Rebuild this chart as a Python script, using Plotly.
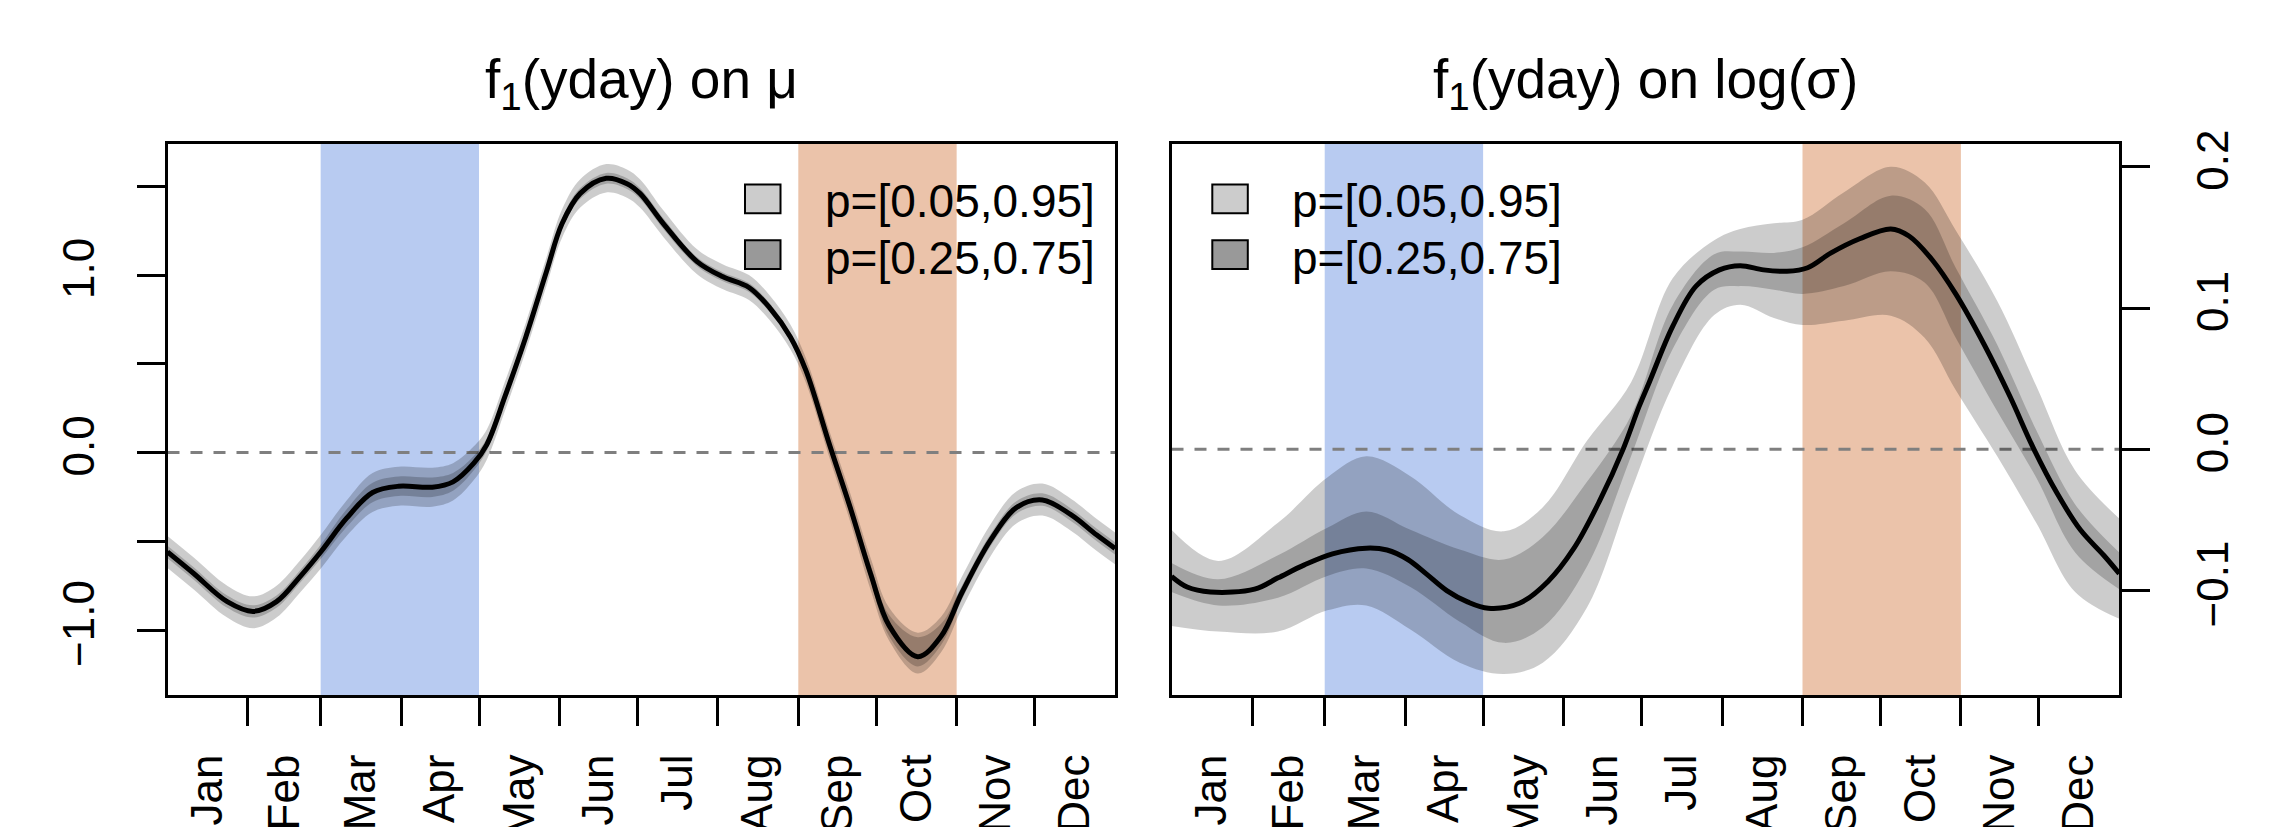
import plotly.graph_objects as go

# ---------------- data ----------------
months = ["Jan", "Feb", "Mar", "Apr", "May", "Jun", "Jul", "Aug", "Sep", "Oct", "Nov", "Dec"]
month_start = [1, 32, 60, 91, 121, 152, 182, 213, 244, 274, 305, 335]
month_mid = [16.5, 46, 75.5, 106, 136.5, 167, 197.5, 228.5, 259, 289.5, 320, 350.5]
year_range = [1, 366]
spring = [60, 121]   # Mar 1 .. May 1
autumn = [244, 305]  # Sep 1 .. Nov 1

# panel 1: f1(yday) on mu
L_day = [1, 11, 24, 34, 43, 52, 60, 70, 80, 90, 103, 111, 119, 124, 131, 139, 147, 153, 160, 170, 178, 183,
         192, 205, 215, 225, 233, 241, 247, 256, 264, 272, 279, 290, 299, 307, 318, 328, 338, 349, 359, 366]
L_mean = [-0.56, -0.68, -0.84, -0.895, -0.84, -0.70, -0.56, -0.37, -0.225, -0.19, -0.195, -0.165, -0.06, 0.045,
          0.316, 0.65, 1.02, 1.29, 1.46, 1.545, 1.515, 1.46, 1.29, 1.076, 0.99, 0.93, 0.815, 0.65, 0.46, 0.045,
          -0.31, -0.69, -0.975, -1.15, -1.035, -0.79, -0.495, -0.31, -0.267, -0.35, -0.465, -0.54]
L_q95 = [-0.47, -0.59, -0.75, -0.81, -0.75, -0.61, -0.465, -0.27, -0.115, -0.08, -0.085, -0.06, 0.035, 0.13,
         0.40, 0.73, 1.10, 1.37, 1.54, 1.625, 1.595, 1.54, 1.365, 1.145, 1.06, 1.00, 0.885, 0.72, 0.53, 0.12,
         -0.23, -0.60, -0.875, -1.015, -0.925, -0.70, -0.405, -0.22, -0.175, -0.26, -0.375, -0.45]
L_q75 = [-0.525, -0.645, -0.805, -0.86, -0.805, -0.665, -0.52, -0.32, -0.17, -0.135, -0.14, -0.115, -0.02, 0.08,
         0.35, 0.68, 1.05, 1.32, 1.49, 1.575, 1.545, 1.49, 1.32, 1.10, 1.015, 0.955, 0.84, 0.675, 0.49, 0.08,
         -0.27, -0.64, -0.915, -1.04, -0.965, -0.75, -0.46, -0.275, -0.23, -0.315, -0.43, -0.505]
L_q25 = [-0.595, -0.715, -0.875, -0.93, -0.875, -0.735, -0.60, -0.42, -0.28, -0.245, -0.25, -0.215, -0.10, 0.01,
         0.285, 0.62, 0.99, 1.26, 1.43, 1.515, 1.485, 1.43, 1.26, 1.05, 0.965, 0.905, 0.79, 0.625, 0.43, 0.01,
         -0.35, -0.73, -1.035, -1.205, -1.085, -0.83, -0.53, -0.345, -0.30, -0.385, -0.50, -0.575]
L_q05 = [-0.65, -0.77, -0.93, -0.99, -0.93, -0.79, -0.655, -0.47, -0.335, -0.30, -0.305, -0.27, -0.155, -0.04,
         0.235, 0.57, 0.94, 1.21, 1.38, 1.465, 1.435, 1.38, 1.215, 1.005, 0.92, 0.86, 0.745, 0.58, 0.39, -0.03,
         -0.39, -0.78, -1.06, -1.245, -1.125, -0.88, -0.585, -0.40, -0.355, -0.44, -0.555, -0.63]
L_yticks = [-1.0, 0.0, 1.0]
L_yticktext = ["\u22121.0", "0.0", "1.0"]
L_yminor = [-0.5, 0.5, 1.5]
L_yrange = [-1.366, 1.74]

# panel 2: f1(yday) on log(sigma)
R_day = [1, 7, 16, 33, 42, 52, 63, 76, 84, 92, 99, 107, 115, 123, 135, 146, 156, 166, 175, 181, 185, 194, 203,
         212, 220, 229, 238, 246, 255, 266, 278, 285, 294, 303, 314, 324, 333, 342, 351, 360, 366]
R_mean = [-0.090, -0.0975, -0.101, -0.099, -0.091, -0.082, -0.074, -0.070, -0.0713, -0.078, -0.088, -0.100,
          -0.108, -0.1125, -0.109, -0.0935, -0.070, -0.036, 0.0005, 0.030, 0.0475, 0.087, 0.1155, 0.127, 0.130,
          0.127, 0.126, 0.1285, 0.139, 0.149, 0.156, 0.151, 0.134, 0.110, 0.074, 0.037, 0.0005, -0.031, -0.057,
          -0.075, -0.088]
R_band_day = [1, 19, 42, 61, 76, 93, 112, 129, 144, 161, 178, 194, 210, 220, 233, 244, 260, 278, 291, 303, 319,
              334, 349, 366]
R_q95 = [-0.057, -0.079, -0.052, -0.020, -0.005, -0.019, -0.0465, -0.058, -0.041, 0.006, 0.0475, 0.121, 0.148,
         0.156, 0.160, 0.1625, 0.182, 0.200, 0.189, 0.155, 0.105, 0.045, -0.015, -0.049]
R_q75 = [-0.0805, -0.092, -0.075, -0.0556, -0.044, -0.057, -0.071, -0.078, -0.062, -0.023, 0.024, 0.102, 0.138,
         0.140, 0.139, 0.143, 0.160, 0.1795, 0.170, 0.1285, 0.074, 0.0136, -0.039, -0.073]
R_q25 = [-0.101, -0.1105, -0.105, -0.0896, -0.0844, -0.0975, -0.122, -0.137, -0.126, -0.083, -0.0047, 0.071,
         0.113, 0.1155, 0.113, 0.110, 0.1155, 0.126, 0.118, 0.079, 0.027, -0.020, -0.073, -0.099]
R_q05 = [-0.125, -0.129, -0.129, -0.114, -0.1105, -0.1275, -0.151, -0.159, -0.151, -0.112, -0.0295, 0.045,
         0.095, 0.1024, 0.093, 0.088, 0.091, 0.0946, 0.079, 0.042, -0.005, -0.052, -0.101, -0.120]
R_yticks = [-0.1, 0.0, 0.1, 0.2]
R_yticktext = ["\u22120.1", "0.0", "0.1", "0.2"]
R_yminor = []
R_yrange = [-0.1739, 0.2163]

titles = ["f<sub>1</sub>(yday) on \u03bc", "f<sub>1</sub>(yday) on log(\u03c3)"]
legend_labels = ["p=[0.05,0.95]", "p=[0.25,0.75]"]

# ---------------- styling ----------------
W, H = 2281, 827
FONT = "Liberation Sans, Arial, Helvetica, sans-serif"
BAND = "rgba(0,0,0,0.2)"
BLUE = "#B8CBF1"
ORANGE = "#EBC3AA"


def fx(p):
    return p / W


def fy(p):
    return 1 - p / H


panels = [
    dict(xa="x", ya="y", xdom=[167.5, 1115], bday=L_day, q05=L_q05, q25=L_q25, q75=L_q75, q95=L_q95,
         mday=L_day, mean=L_mean),
    dict(xa="x2", ya="y2", xdom=[1171.5, 2119.3], bday=R_band_day, q05=R_q05, q25=R_q25, q75=R_q75, q95=R_q95,
         mday=R_day, mean=R_mean),
]

fig = go.Figure()
for p in panels:
    common = dict(xaxis=p["xa"], yaxis=p["ya"], mode="lines", showlegend=False, hoverinfo="skip")
    fig.add_trace(go.Scatter(x=p["bday"], y=p["q05"], line=dict(width=0, shape="spline"), **common))
    fig.add_trace(go.Scatter(x=p["bday"], y=p["q95"], line=dict(width=0, shape="spline"),
                             fill="tonexty", fillcolor=BAND, **common))
    fig.add_trace(go.Scatter(x=p["bday"], y=p["q25"], line=dict(width=0, shape="spline"), **common))
    fig.add_trace(go.Scatter(x=p["bday"], y=p["q75"], line=dict(width=0, shape="spline"),
                             fill="tonexty", fillcolor=BAND, **common))
    fig.add_trace(go.Scatter(x=p["mday"], y=p["mean"], line=dict(width=5, color="black", shape="spline"),
                             **common))

shapes = []
annotations = []
for i, p in enumerate(panels):
    xr, yr = p["xa"], p["ya"]
    shapes.append(dict(type="rect", xref=xr, yref=yr + " domain", x0=spring[0], x1=spring[1], y0=0, y1=1,
                       fillcolor=BLUE, line=dict(width=0), layer="below"))
    shapes.append(dict(type="rect", xref=xr, yref=yr + " domain", x0=autumn[0], x1=autumn[1], y0=0, y1=1,
                       fillcolor=ORANGE, line=dict(width=0), layer="below"))
    shapes.append(dict(type="line", xref=xr + " domain", yref=yr, x0=0, x1=1, y0=0, y1=0,
                       line=dict(color="#7f7f7f", width=3, dash="12px,11px"), layer="below"))
    cx = (p["xdom"][0] + p["xdom"][1]) / 2
    annotations.append(dict(text=titles[i], xref="paper", yref="paper", x=fx(cx), y=fy(83), xanchor="center",
                            yanchor="middle", showarrow=False, font=dict(family=FONT, size=55, color="black")))

# legends (drawn manually, like R's legend())
legend_pos = [dict(box=745, text=823), dict(box=1212.3, text=1290)]
swatch = ["#CCCCCC", "#999999"]
rows = [(184.5, 213.3, 201), (240.2, 269.0, 258)]
for lp in legend_pos:
    for k, (y0, y1, yc) in enumerate(rows):
        shapes.append(dict(type="rect", xref="paper", yref="paper", x0=fx(lp["box"]), x1=fx(lp["box"] + 35.5),
                           y0=fy(y1), y1=fy(y0), fillcolor=swatch[k], line=dict(color="black", width=2)))
        annotations.append(dict(text=legend_labels[k], xref="paper", yref="paper", x=fx(lp["text"]), y=fy(yc),
                                xanchor="left", yanchor="middle", showarrow=False,
                                font=dict(family=FONT, size=46, color="black")))

tickfont = dict(family=FONT, size=44, color="black")
ydom = [fy(695), fy(143.7)]


def xaxis_cfg(dom, anchor):
    return dict(domain=[fx(dom[0]), fx(dom[1])], anchor=anchor, range=year_range, tickmode="array",
                tickvals=month_mid, ticktext=months, tickangle=-90, ticks="", ticklabelstandoff=39,
                tickfont=tickfont, showline=True, mirror=True, linecolor="black", linewidth=3,
                showgrid=False, zeroline=False, automargin=False,
                minor=dict(tickmode="array", tickvals=month_start[1:], ticks="outside", ticklen=28,
                           tickwidth=3, tickcolor="black", showgrid=False))


def yaxis_cfg(rng, tv, tt, minor_vals, anchor, side):
    return dict(domain=ydom, anchor=anchor, range=rng, side=side, tickmode="array", tickvals=tv, ticktext=tt,
                tickangle=-90, ticks="outside", ticklen=28, tickwidth=3, tickcolor="black",
                ticklabelstandoff=25, tickfont=tickfont, showline=True, mirror=True, linecolor="black",
                linewidth=3, showgrid=False, zeroline=False, automargin=False,
                minor=dict(tickmode="array", tickvals=minor_vals, ticks="outside", ticklen=28, tickwidth=3,
                           tickcolor="black", showgrid=False))


fig.update_layout(
    width=W, height=H, margin=dict(l=0, r=0, t=0, b=0),
    paper_bgcolor="white", plot_bgcolor="white", showlegend=False,
    xaxis=xaxis_cfg(panels[0]["xdom"], "y"),
    xaxis2=xaxis_cfg(panels[1]["xdom"], "y2"),
    yaxis=yaxis_cfg(L_yrange, L_yticks, L_yticktext, L_yminor, "x", "left"),
    yaxis2=yaxis_cfg(R_yrange, R_yticks, R_yticktext, R_yminor, "x2", "right"),
    shapes=shapes, annotations=annotations,
)

fig.write_html("out.html", config={"displayModeBar": False},
               post_script="document.body.style.margin='0px';document.body.style.overflow='hidden';")
